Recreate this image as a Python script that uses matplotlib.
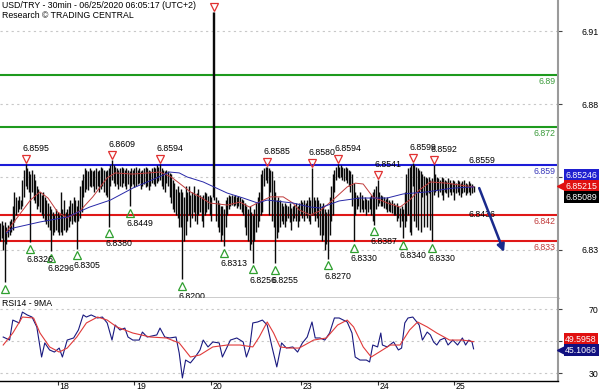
import matplotlib
matplotlib.use('Agg')
import matplotlib.pyplot as plt
import numpy as np
from matplotlib.transforms import ScaledTranslation

plt.rcParams['font.family'] = ['Liberation Sans', 'DejaVu Sans']
FS = 6.3

# 30 min bars, prices in pips above 6.8000
bar_highs = [
    392, 398, 385, 395, 380, 385, 400, 405, 450, 500,
    480, 470, 485, 470, 540, 575, 595, 580, 570, 560,
    575, 560, 540, 520, 510, 500, 490, 500, 480, 470,
    460, 450, 440, 430, 420, 440, 430, 420, 500, 440,
    470, 430, 440, 450, 470, 460, 480, 470, 450, 470,
    520, 540, 560, 580, 575, 570, 580, 575, 570, 575,
    580, 570, 575, 585, 580, 575, 570, 575, 580, 590,
    609, 590, 585, 580, 575, 580, 585, 580, 575, 580,
    575, 570, 580, 575, 580, 585, 575, 580, 570, 575,
    580, 585, 580, 575, 570, 580, 585, 580, 590, 585,
    594, 580, 575, 570, 575, 570, 565, 560, 540, 530,
    510, 520, 500, 510, 500, 480, 520, 500, 520, 490,
    500, 520, 490, 495, 510, 490, 480, 490, 500, 495,
    485, 490, 480, 1115, 1115, 480, 470, 460, 450, 450,
    440, 470, 480, 490, 485, 490, 485, 490, 480, 485,
    480, 475, 470, 460, 450, 440, 450, 430, 420, 440,
    460, 480, 500, 560, 575, 580, 585, 585, 580, 575,
    570, 540, 500, 470, 480, 470, 460, 450, 460, 455,
    450, 460, 445, 450, 455, 460, 450, 460, 470, 465,
    470, 460, 470, 480, 470, 580, 480, 470, 480, 470,
    460, 450, 460, 440, 430, 440, 480, 520, 560, 575,
    585, 594, 585, 590, 585, 580, 585, 580, 575, 570,
    560, 530, 500, 490, 480, 500, 490, 470, 480, 475,
    470, 480, 490, 500, 510, 520, 541, 500, 490, 485,
    480, 475, 480, 470, 465, 470, 460, 455, 460, 450,
    445, 450, 440, 500, 560, 580, 585, 590, 599, 590,
    585, 580, 575, 570, 560, 555, 550, 545, 550, 540,
    545, 592, 560, 550, 545, 540, 550, 545, 540, 535,
    545, 540, 530, 540, 535, 530, 540, 535, 530, 535,
    540, 530, 525, 535, 530, 525, 520,
]
bar_lows = [
    330, 340, 300, 190, 320, 345, 350, 360, 370, 395,
    420, 430, 440, 440, 450, 480, 520, 510, 500, 326,
    500, 470, 460, 440, 450, 430, 420, 410, 400, 390,
    380, 370, 296, 350, 360, 370, 360, 350, 360, 350,
    370, 360, 370, 380, 400, 390, 400, 395, 305, 400,
    410, 430, 480, 500, 510, 505, 520, 515, 520, 500,
    510, 520, 500, 510, 520, 500, 490, 480, 380, 520,
    540, 530, 520, 525, 510, 520, 515, 530, 520, 510,
    525, 449, 520, 525, 515, 520, 525, 530, 510, 520,
    525, 515, 520, 505, 520, 530, 525, 520, 530, 535,
    540, 520, 510, 500, 530, 520, 480, 460, 440, 430,
    420, 410, 380, 380, 200, 330, 350, 400, 420, 380,
    410, 430, 400, 390, 420, 430, 400, 380, 420, 430,
    440, 420, 400, 480, 470, 400, 380, 360, 330, 350,
    313, 380, 420, 440, 450, 455, 450, 455, 445, 450,
    440, 430, 420, 380, 350, 330, 300, 320, 256, 330,
    360, 380, 400, 420, 430, 520, 540, 530, 420, 500,
    400, 380, 255, 340, 360, 380, 400, 390, 380, 400,
    410, 395, 370, 400, 410, 400, 380, 400, 420, 410,
    400, 420, 410, 400, 390, 420, 420, 400, 410, 380,
    350, 330, 350, 300, 320, 270, 350, 400, 420, 500,
    540, 550, 545, 550, 540, 535, 540, 530, 520, 500,
    450, 330, 420, 440, 450, 430, 440, 430, 440, 420,
    430, 440, 420, 400, 387, 440, 450, 460, 450, 450,
    445, 440, 430, 435, 430, 425, 420, 420, 400, 410,
    380, 400, 340, 380, 400, 420, 360, 350, 520, 400,
    380, 370, 500, 360, 480, 380, 490, 380, 495, 370,
    330, 490, 500, 505, 480, 500, 490, 470, 500, 495,
    480, 500, 490, 500, 470, 495, 500, 490, 480, 495,
    500, 490, 495, 500, 490, 495, 500,
]

# moving averages on price (bar index, pips above 6.8000)
ma_fast_bars = [4, 12, 19, 25, 30, 36, 42, 50, 58, 67, 72, 83, 100, 107, 112, 119,
                125, 131, 142, 150, 156, 162, 169, 177, 183, 187, 194, 200, 208,
                217, 222, 227, 233, 242, 250, 256, 262, 269, 279, 296]
ma_fast_vals = [362, 420, 471, 499, 478, 430, 410, 434, 482, 547, 564, 560, 567, 550,
                529, 499, 482, 461, 454, 464, 447, 464, 482, 482, 461, 437, 420, 434,
                471, 516, 529, 526, 482, 461, 447, 471, 505, 533, 529, 516]
ma_slow_bars = [4, 8, 25, 42, 56, 69, 83, 98, 106, 112, 117, 127, 142, 152, 161, 167,
                183, 194, 200, 212, 225, 242, 252, 267, 283, 296]
ma_slow_vals = [358, 375, 396, 413, 447, 471, 512, 547, 567, 564, 550, 533, 495, 478,
                461, 471, 461, 447, 444, 468, 478, 478, 492, 499, 512, 516]

# key levels
green_levels = [6.89, 6.872]
blue_levels = [6.859]
red_levels = [6.842, 6.833]

# swing highs / lows
hi_bars = [16, 70, 100, 167, 195, 211, 236, 258, 271]
hi_vals = [6.8595, 6.8609, 6.8594, 6.8585, 6.8580, 6.8594, 6.8541, 6.8599, 6.8592]
spike_bar, spike_val = 133.5, 6.9115
lo_bars = [19, 32, 48, 68, 81, 114, 140, 158, 172, 205, 221, 234, 252, 270]
lo_vals = [6.8326, 6.8296, 6.8305, 6.8380, 6.8449, 6.8200, 6.8313, 6.8256, 6.8255,
           6.8270, 6.8330, 6.8387, 6.8340, 6.8330]
first_lo_bar, first_lo_val = 3, 6.8190

forecast_bars = [299.5, 315]
forecast_vals = [6.8512, 6.8293]
pivot_bar = 293
pivot_vals = [6.8559, 6.8436]

# RSI14 and its 9MA
rsi_bars = [2, 6, 8, 12, 14, 17, 20, 23, 26, 28, 31, 34, 37, 39, 42, 46, 49, 52, 54,
            57, 61, 64, 67, 70, 72, 75, 78, 80, 83, 87, 89, 92, 98, 100, 103, 106,
            110, 112, 114, 116, 119, 122, 125, 127, 130, 133, 137, 139, 144, 148,
            152, 154, 156, 158, 161, 164, 167, 170, 173, 176, 179, 183, 186, 189,
            192, 195, 197, 200, 203, 206, 209, 212, 217, 220, 222, 225, 229, 231,
            233, 236, 238, 239, 242, 246, 249, 251, 253, 255, 258, 261, 262, 264,
            267, 269, 271, 273, 275, 278, 280, 283, 286, 289, 291, 293, 295, 296]
rsi_vals = [52.5, 50.6, 63.1, 61.3, 68.1, 66.3, 65.0, 58.8, 40.0, 48.8, 44.4, 43.1,
            45.6, 40.0, 50.6, 51.9, 56.9, 66.3, 65.0, 66.3, 64.4, 65.0, 61.3, 50.6,
            60.0, 56.9, 58.1, 52.5, 50.6, 50.6, 55.6, 52.5, 53.8, 58.1, 52.5, 51.9,
            52.5, 42.5, 26.9, 38.1, 36.3, 40.0, 44.4, 50.6, 46.3, 49.4, 48.8, 40.0,
            50.6, 51.9, 49.4, 40.0, 45.6, 61.3, 61.9, 63.1, 60.0, 46.3, 33.8, 48.8,
            45.6, 46.3, 43.1, 48.8, 52.5, 61.9, 51.9, 51.9, 50.6, 55.0, 64.4, 64.4,
            61.9, 55.0, 40.0, 38.1, 38.1, 36.9, 47.5, 46.3, 55.0, 47.5, 46.3, 49.4,
            44.4, 45.6, 61.3, 64.4, 65.0, 61.3, 60.0, 50.6, 55.6, 53.8, 49.4, 47.5,
            50.6, 51.9, 47.5, 50.6, 47.5, 51.9, 47.5, 50.6, 49.4, 45.1]
rsi_ma_bars = [2, 8, 14, 21, 25, 31, 37, 42, 48, 54, 61, 67, 73, 83, 94, 104, 112,
               119, 125, 133, 142, 150, 158, 162, 167, 171, 175, 181, 187, 196, 204,
               211, 217, 221, 227, 232, 237, 244, 250, 256, 261, 267, 273, 281, 289, 296]
rsi_ma_vals = [47.5, 55.0, 65.0, 64.4, 55.0, 46.3, 43.1, 45.6, 52.5, 61.3, 65.0, 63.1,
               58.8, 55.0, 52.5, 51.9, 48.8, 40.0, 41.3, 46.3, 47.5, 47.5, 46.3, 52.5,
               61.9, 55.0, 46.3, 45.6, 45.6, 50.6, 51.9, 60.0, 63.1, 58.8, 46.3, 40.0,
               43.1, 47.5, 47.5, 56.9, 61.9, 58.8, 55.0, 50.6, 50.6, 49.6]

day_ticks = [36, 84, 132, 188, 236, 284]
day_labels = ['18', '19', '20', '23', '24', '25']

last_close = 6.85089
flag_blue = 6.85246
flag_red = 6.85215
rsi_last = 45.1066
rsi_ma_last = 49.5958

fig = plt.figure(figsize=(6, 3.92), dpi=100)
ax = fig.add_axes([0, 94 / 392, 558 / 600, 298 / 392])
rx = fig.add_axes([0, 11 / 392, 558 / 600, 83 / 392])


def shifted(tr, dx, dy):
    # shift a transform by pixels
    return tr + ScaledTranslation(dx / 100, dy / 100, fig.dpi_scale_trans)


idx = np.arange(len(bar_highs))
highs = 6.8 + np.array(bar_highs) / 10000
lows = 6.8 + np.array(bar_lows) / 10000

# price panel
for lv in green_levels:
    ax.axhline(lv, color='#1e9a1e', lw=1.5, zorder=2)
    ax.annotate(f'{lv:g}', (1, lv), xycoords=ax.get_yaxis_transform(), xytext=(-1.5, -4.5),
                textcoords='offset points', ha='right', va='center', fontsize=FS, color='#3a9a3a')
for lv in blue_levels:
    ax.axhline(lv, color='#1c1cd8', lw=1.5, zorder=2)
    ax.annotate(f'{lv:g}', (1, lv), xycoords=ax.get_yaxis_transform(), xytext=(-1.5, -4.5),
                textcoords='offset points', ha='right', va='center', fontsize=FS, color='#3636b8')
for lv in red_levels:
    ax.axhline(lv, color='#e01818', lw=1.5, zorder=2)
    ax.annotate(f'{lv:g}', (1, lv), xycoords=ax.get_yaxis_transform(), xytext=(-1.5, -4.5),
                textcoords='offset points', ha='right', va='center', fontsize=FS, color='#c03a3a')

ax.vlines(idx, lows, highs, color='#0a0a0a', lw=1.0, zorder=3)
ax.plot(ma_fast_bars, 6.8 + np.array(ma_fast_vals) / 10000, color='#c03c3c', lw=0.7, zorder=4)
ax.plot(ma_slow_bars, 6.8 + np.array(ma_slow_vals) / 10000, color='#2828a8', lw=0.7, zorder=4)

red_c, green_c = '#e03030', '#2f9f2f'
ax.plot(hi_bars + [spike_bar], hi_vals + [spike_val], 'v', ms=6, mfc='none', mec=red_c, mew=0.9,
        transform=shifted(ax.transData, 0, 5), clip_on=False, zorder=5)
for b, v in zip(hi_bars, hi_vals):
    ax.annotate(f'{v:.4f}', (b, v), xytext=(-2.5, 11), textcoords='offset points',
                ha='left', va='center', fontsize=FS, zorder=6)
ax.plot(lo_bars + [first_lo_bar], lo_vals + [first_lo_val], '^', ms=6, mfc='none', mec=green_c,
        mew=0.9, transform=shifted(ax.transData, 0, -6.5), clip_on=False, zorder=5)
for b, v in zip(lo_bars, lo_vals):
    ax.annotate(f'{v:.4f}', (b, v), xytext=(-2.5, -12.5), textcoords='offset points',
                ha='left', va='center', fontsize=FS, zorder=6, annotation_clip=False)

ax.annotate(f'{pivot_vals[0]:.4f}', (pivot_bar, pivot_vals[0]), xytext=(0, 10),
            textcoords='offset points', ha='left', va='center', fontsize=FS)
ax.annotate(f'{pivot_vals[1]:.4f}', (pivot_bar, pivot_vals[1]), xytext=(0, -3),
            textcoords='offset points', ha='left', va='center', fontsize=FS)

ax.annotate('', xy=(forecast_bars[1], forecast_vals[1]), xytext=(forecast_bars[0], forecast_vals[0]),
            arrowprops=dict(arrowstyle='-|>', color='#1a2a8c', lw=1.8, mutation_scale=11,
                            shrinkA=0, shrinkB=0), zorder=6)

ax.set_xlim(0, 348.75)
ax.set_ylim(6.81356, 6.91562)
ax.set_yticks([6.83, 6.855, 6.88, 6.905], ['6.83', '', '6.88', '6.91'])
ax.grid(axis='y', color='#c8c8c8', ls=(0, (2, 3)), lw=0.8)
ax.set_axisbelow(True)
ax.tick_params(axis='x', bottom=False, labelbottom=False)

# RSI panel
rx.plot(rsi_bars, rsi_vals, color='#1a1a80', lw=0.8, zorder=3)
rx.plot(rsi_ma_bars, rsi_ma_vals, color='#e03a3a', lw=0.8, zorder=3)
rx.text(0.004, 0.93, 'RSI14 - 9MA', transform=rx.transAxes, fontsize=FS, va='center')
rx.set_xlim(0, 348.75)
rx.set_ylim(25.0, 76.9)
rx.set_yticks([30, 50, 70], ['30', '', '70'])
rx.grid(axis='y', color='#c8c8c8', ls=(0, (2, 3)), lw=0.8)
rx.set_xticks(day_ticks, day_labels)
rx.tick_params(axis='x', length=3, pad=-2.2, labelsize=FS, color='#333333')
for lab in rx.get_xticklabels():
    lab.set_ha('left')
    lab.set_transform(shifted(lab.get_transform(), 1.5, 0))

for a in (ax, rx):
    a.yaxis.tick_right()
    a.tick_params(axis='y', length=3, pad=26, labelsize=FS, color='#444444')
    for lab in a.get_yticklabels():
        lab.set_ha('right')
    a.spines['left'].set_visible(False)
    a.spines['top'].set_visible(False)
    a.spines['right'].set_color('#9a9a9a')
    a.spines['right'].set_linewidth(1.5)
    a.spines['bottom'].set_color('black')
    a.spines['bottom'].set_linewidth(1.0)

# last value flags
def flag(a, val, dy, fc, pointed=False):
    a.annotate(f'{val:.5f}' if a is ax else f'{val:.4f}', (1, val), xycoords=a.get_yaxis_transform(),
               xytext=(5.2, dy), textcoords='offset points', ha='left', va='center', fontsize=FS,
               color='white', annotation_clip=False, zorder=10,
               bbox=dict(boxstyle='square,pad=0.18', fc=fc, ec='none'))
    if pointed:
        a.plot([1], [val], '<', ms=7, color=fc, clip_on=False, zorder=9,
               transform=shifted(a.get_yaxis_transform(), 4, dy * 100 / 72))


flag(ax, flag_blue, 6.5, '#1f1fd0')
flag(ax, flag_red, -0.7, '#e01010', pointed=True)
flag(ax, last_close, -5.8, '#000000')
flag(rx, rsi_ma_last, 1.7, '#e01010')
flag(rx, rsi_last, -1.0, '#101080', pointed=True)

fig.text(2 / 600, 1 - 5 / 392, 'USD/TRY - 30min - 06/25/2020 06:05:17 (UTC+2)', fontsize=FS, va='center')
fig.text(2 / 600, 1 - 16 / 392, 'Research \u00a9 TRADING CENTRAL', fontsize=FS, va='center')

fig.savefig('out.png', dpi=100, facecolor='white')
